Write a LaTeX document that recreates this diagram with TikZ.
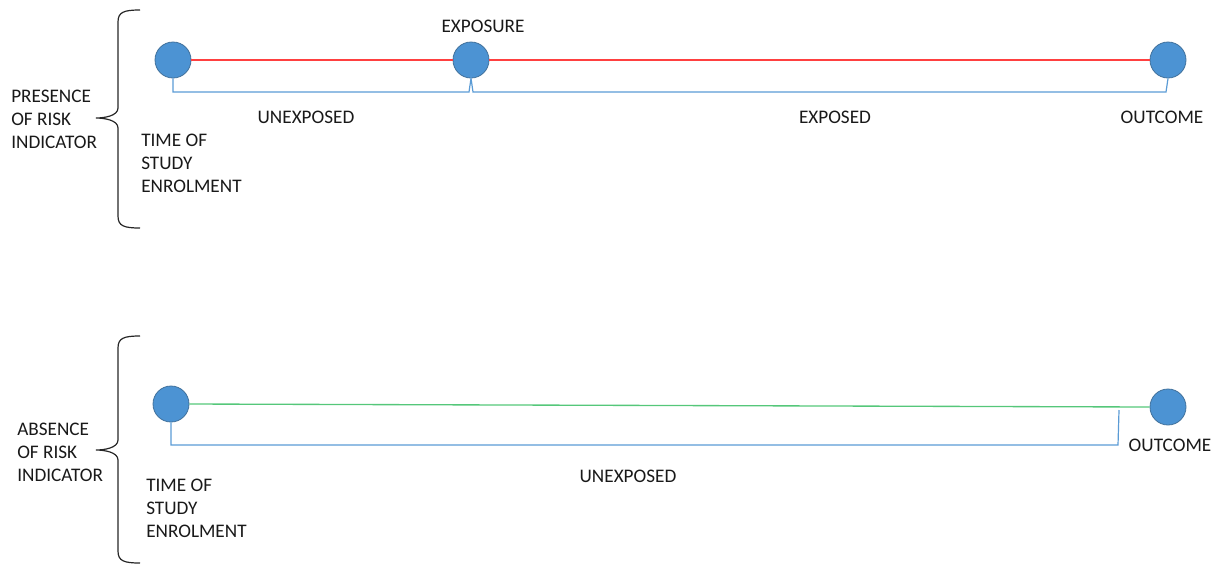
\documentclass[tikz,border=0pt]{standalone}
\usepackage{fontspec}
\setmainfont{Carlito}
\usetikzlibrary{calc}
\definecolor{dotfill}{HTML}{4C93D3}
\definecolor{dotline}{HTML}{41719C}
\definecolor{redln}{HTML}{FF4040}
\definecolor{greenln}{HTML}{55C77A}
\definecolor{bracketln}{HTML}{5B9BD5}
\begin{document}
\begin{tikzpicture}[x=0.75pt,y=-0.75pt,
  dot/.style={circle,fill=dotfill,draw=dotline,line width=0.6pt,minimum size=27pt,inner sep=0pt},
  lbl/.style={inner sep=0pt,font=\fontsize{14.4pt}{17.3pt}\selectfont,text=black!90},
  blk/.style={lbl,align=left,anchor=west},
  redline/.style={draw=redln,line width=1pt},
  greenline/.style={draw=greenln,line width=1pt},
  bracketline/.style={draw=bracketln,line width=0.9pt},
  bigbrace/.style={draw=black!85,line width=0.9pt}]
\path[use as bounding box] (0,0) rectangle (1223,565);
% ---- top row ----
\node[dot] (t1) at (173,60) {};
\node[dot] (t2) at (471,60) {};
\node[dot] (t3) at (1168,60) {};
\draw[redline] (t1.east) -- (t2.west);
\draw[redline] (t2.east) -- (t3.west);
\coordinate (tb) at (0,92);
\draw[bracketline] (t1.south) -- (t1.south |- tb) -- ($(t2.south |- tb)+(-2,0)$) -- (t2.south)
  -- ($(t2.south |- tb)+(2,0)$) -- ($(t3.south |- tb)+(-2,0)$) -- (t3.south);
\node[lbl] (exposure) at (483,26) {EXPOSURE};
\node[lbl] (unexp1) at (306,117) {UNEXPOSED};
\node[lbl] (exp1) at (835,117) {EXPOSED};
\node[lbl] (out1) at (1162,117) {OUTCOME};
\node[blk] (enrol1) at (141,163) {TIME OF\\STUDY\\ENROLMENT};
\node[blk] (pres) at (11,119) {PRESENCE\\OF RISK\\INDICATOR};
\draw[bigbrace] (140,10) .. controls (124,10) and (118,12) .. (118,22)
  -- (118,108) .. controls (118,116) and (104,118) .. (96,118)
  .. controls (104,118) and (118,120) .. (118,128)
  -- (118,216) .. controls (118,226) and (124,228) .. (140,228);
% ---- bottom row ----
\node[dot] (b1) at (171,404) {};
\node[dot] (b2) at (1168,407) {};
\coordinate (bend) at (1119,410);
\coordinate (bl) at (1118,445);
\draw[greenline] (b1.east) -- (b2.west);
\draw[bracketline] (b1.south) -- (b1.south |- bl) -- (bl) -- (bend);
\node[lbl] (unexp2) at (628,476) {UNEXPOSED};
\node[lbl] (out2) at (1170,445) {OUTCOME};
\node[blk] (enrol2) at (146,508) {TIME OF\\STUDY\\ENROLMENT};
\node[blk] (abs) at (17,452) {ABSENCE\\OF RISK\\INDICATOR};
\draw[bigbrace] (140,336) .. controls (124,336) and (118,338) .. (118,348)
  -- (118,440) .. controls (118,448) and (104,450) .. (96,450)
  .. controls (104,450) and (118,452) .. (118,460)
  -- (118,551) .. controls (118,561) and (124,563) .. (140,563);
\end{tikzpicture}
\end{document}
